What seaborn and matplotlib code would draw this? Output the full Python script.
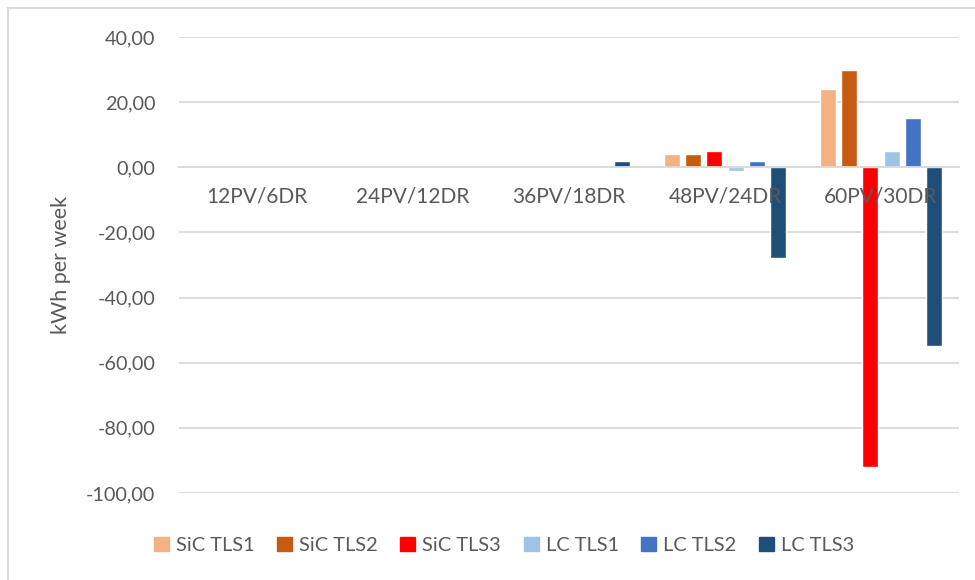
import matplotlib.pyplot as plt
import matplotlib.patches as mpatches
import pandas as pd
import seaborn as sns

categories = ["12PV/6DR", "24PV/12DR", "36PV/18DR", "48PV/24DR", "60PV/30DR"]
series = ["SiC TLS1", "SiC TLS2", "SiC TLS3", "LC TLS1", "LC TLS2", "LC TLS3"]
sic_tls1 = [0.0, 0.0, 0.0, 4.0, 24.0]
sic_tls2 = [0.0, 0.0, 0.0, 4.0, 30.0]
sic_tls3 = [0.0, 0.0, 0.0, 5.0, -92.0]
lc_tls1 = [0.0, 0.0, 0.2, -1.0, 5.0]
lc_tls2 = [0.0, 0.0, 0.3, 2.0, 15.0]
lc_tls3 = [0.0, 0.0, 1.8, -28.0, -55.0]
colors = ["#f4b183", "#c55a11", "#ff0000", "#9dc3e6", "#4472c4", "#1f4e79"]

values = [sic_tls1, sic_tls2, sic_tls3, lc_tls1, lc_tls2, lc_tls3]
rows = []
for name, vals in zip(series, values):
    for cat, v in zip(categories, vals):
        rows.append({"Category": cat, "Series": name, "Value": v})
df = pd.DataFrame(rows)

sns.set_theme(style="white")
plt.rcParams["font.family"] = ["Lato", "DejaVu Sans"]
text_color = "#595959"
grid_color = "#d9d9d9"

fig = plt.figure(figsize=(9.75, 5.8), dpi=100)
ax = fig.add_axes([179 / 975, 1 - 493 / 580, 780 / 975, 456 / 580])

sns.barplot(data=df, x="Category", y="Value", hue="Series",
            palette=colors, width=0.81, gap=0.24, ax=ax,
            legend=False, saturation=1, order=categories,
            hue_order=series)

ax.set_ylim(-100, 40)
ax.set_yticks(range(-100, 41, 20))
ax.set_yticklabels(["%d,00" % t for t in range(-100, 41, 20)])
ax.yaxis.grid(True, color=grid_color, linewidth=1.3)
ax.set_axisbelow(True)
ax.xaxis.set_zorder(5)  # category labels sit on top of the bars
for s in ["top", "right", "left"]:
    ax.spines[s].set_visible(False)
ax.spines["bottom"].set_position(("data", 0))
ax.spines["bottom"].set_color(grid_color)
ax.spines["bottom"].set_linewidth(1.3)
ax.set_xlim(-0.5, len(categories) - 0.5)

ax.tick_params(axis="y", length=0, pad=17, labelsize=14.3,
               labelcolor=text_color)
ax.tick_params(axis="x", length=0, pad=14, labelsize=15,
               labelcolor=text_color)
ax.set_xlabel("")
ax.set_ylabel("kWh per week", fontsize=15.5, color=text_color)
ax.yaxis.set_label_coords(-0.138, 0.5)

handles = [mpatches.Patch(color=c, label=n) for c, n in zip(colors, series)]
fig.legend(handles=handles, loc="center", bbox_to_anchor=(0.517, 0.06),
           ncol=6, frameon=False, fontsize=14.4, handlelength=0.75,
           handleheight=0.75, handletextpad=0.35, columnspacing=1.12,
           labelcolor=text_color)

# chart border like the spreadsheet frame
fig.add_artist(mpatches.Rectangle((8 / 975, -0.01), 1.0, 1 - 8 / 580 + 0.01,
                                  transform=fig.transFigure, fill=False,
                                  edgecolor=grid_color, linewidth=1.5))

fig.savefig("out.png", dpi=100)
